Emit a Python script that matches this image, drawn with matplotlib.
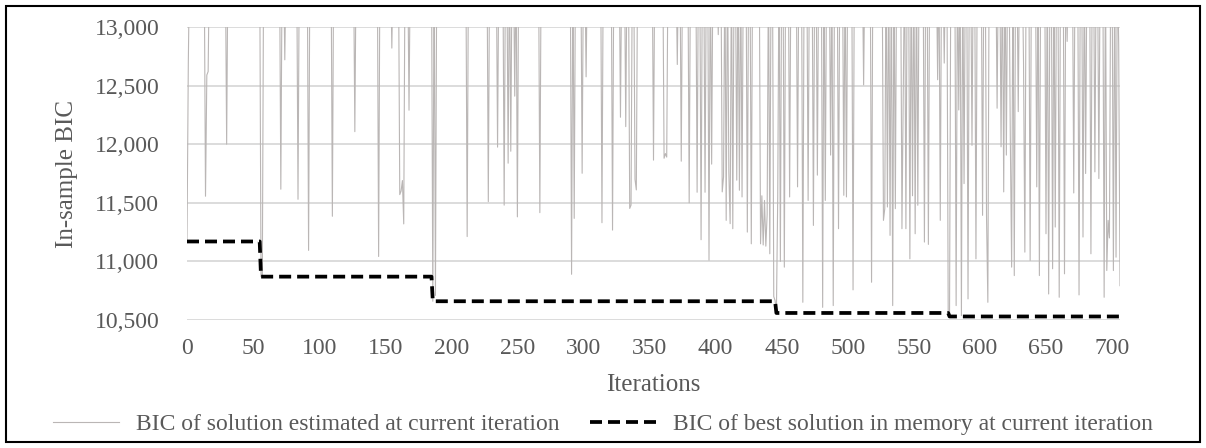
import numpy as np
import matplotlib.pyplot as plt
from matplotlib.patches import Rectangle
from matplotlib.ticker import FuncFormatter

plt.rcParams['font.family'] = 'Liberation Serif'

n_iter = 707
# iterations whose BIC is above the plotted range sit at this value (clipped by the axis)
above_axis = 13600

# BIC of solution estimated at current iteration, only where it drops below 13,000
dip_iters = [0, 1, 14, 15, 16, 30, 56, 57, 71, 74, 84, 92, 110, 127, 145, 155,
             161, 162, 163, 164, 168, 186, 188, 212, 228, 235, 240, 243, 245, 248,
             250, 267, 291, 293, 299, 302, 314, 322, 328, 332, 335, 336, 339, 340,
             353, 361, 362, 363, 371, 374, 380, 386, 389, 392, 395, 397, 402,
             405, 406, 408, 410, 411, 413, 416, 418, 420, 424, 427, 434, 435, 436,
             437, 438, 439, 441, 444, 445, 446, 447, 449, 452, 456, 462, 466, 470,
             474, 477, 481, 483, 487, 489, 493, 497, 499,
             504, 512, 518, 527, 528, 530, 532, 534, 536, 541, 542, 544, 547, 549,
             551, 553, 558, 561, 568, 570, 573, 576, 577, 582, 584, 586, 588, 591,
             594, 597, 602, 605, 606,
             613, 616, 618, 620, 623, 624, 626, 629, 633, 634, 638, 643, 645, 650,
             652, 655, 657, 660, 664, 666, 671, 675, 678, 680, 684, 687, 690, 694,
             696, 697, 698, 701, 703, 705, 706]
dip_vals = [11170, 12700, 11556, 12590, 12620, 12000, 10870, 10880, 11616, 12720, 11530, 11094, 11385, 12107, 11042, 12820,
            11570, 11600, 11690, 11320, 12290, 10660, 10710, 11212, 11510, 11975, 11480, 11838, 11940, 12410,
            11380, 11416, 10890, 11367, 11752, 12575, 11330, 11267, 12230, 12150, 11452, 11480, 11700, 11610,
            11864, 11880, 11920, 11890, 12680, 11855, 11500, 11590, 11185, 11590, 11010, 11830, 12935,
            11593, 11721, 11350, 11764, 11322, 11279, 11693, 11607, 11550, 11250, 11150, 11150, 11560, 11140,
            11520, 11130, 11400, 11065, 10700, 10665, 10560, 11550, 11000, 10951, 11550, 11636, 10651, 11520,
            11307, 11736, 10608, 11520, 11907, 10623, 11279, 11564, 11550,
            10757, 12506, 10822, 11350, 11450, 11464, 11222, 10623, 11450, 11279, 12450, 11279, 11022, 11560,
            11236, 11479, 11165, 11145, 12550, 11350, 12692, 10551, 10530, 10623, 12292, 10537, 11664, 10680,
            11990, 11022, 11393, 11379, 10651,
            12307, 11978, 11593, 11907, 12050, 10951, 10879, 12278, 12692, 11079, 11008, 11636, 10879, 11236,
            10722, 10937, 11293, 10694, 10894, 12877, 11584, 10714, 11208, 11750, 11065, 11764, 11707, 10694,
            10922, 11350, 11200, 10922, 11036, 12849, 10793]

# BIC of best solution in memory: level changes
best_start = [0, 56, 186, 446, 577]
best_vals = [11170, 10870, 10660, 10560, 10530]

current = np.full(n_iter, above_axis, dtype=float)
current[dip_iters] = dip_vals
best = np.repeat(best_vals, np.diff(best_start + [n_iter]))
iters = np.arange(n_iter)

text_col = '#595959'
fs = 17

fig = plt.figure(figsize=(12.06, 4.48), dpi=100)
ax = fig.add_axes([187 / 1206, 1 - 320 / 448, (1120 - 187) / 1206, (320 - 27) / 448])

ax.plot(iters, current, color='#bab6b5', lw=0.8,
        label='BIC of solution estimated at current iteration')
ax.plot(iters, best, color='black', lw=2.7, ls=(0, (3.2, 1.6)),
        label='BIC of best solution in memory at current iteration')

ax.set_xlim(0, n_iter - 1)
ax.set_ylim(10500, 13000)
ax.set_xticks(np.arange(0, 701, 50))
ax.set_yticks(np.arange(10500, 13001, 500))
ax.yaxis.set_major_formatter(FuncFormatter(lambda v, p: f'{v:,.0f}'))
ax.grid(axis='y', color='#d9d9d9', lw=1.3)
ax.set_axisbelow(True)
for s in ax.spines.values():
    s.set_visible(False)
ax.tick_params(length=0, labelsize=fs, labelcolor=text_col)
ax.tick_params(axis='x', pad=13)
ax.tick_params(axis='y', pad=20)
ax.set_xlabel('Iterations', fontsize=fs + 1, color=text_col, labelpad=11)
ax.set_ylabel('In-sample BIC', fontsize=fs + 1, color=text_col, labelpad=12)

fig.legend(loc='center', bbox_to_anchor=(0.5, 0.052), ncol=2, frameon=False,
           fontsize=fs, labelcolor=text_col, handlelength=2.8, handletextpad=0.7,
           columnspacing=1.3)

fig.patches.append(Rectangle((6 / 1206, 6 / 448), 1194 / 1206, 436 / 448,
                             transform=fig.transFigure, fill=False,
                             edgecolor='black', lw=1.5))

fig.savefig('out.png', dpi=100)
